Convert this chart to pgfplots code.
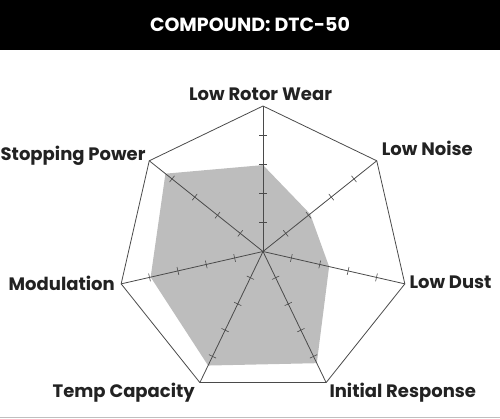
\documentclass[border=0pt]{standalone}
\usepackage{fontspec}
\setmainfont{Poppins}
\usepackage{pgfplots}
\usepackage{pgfplotstable}
\pgfplotsset{compat=1.18}

\definecolor{ink}{HTML}{222222}
\definecolor{web}{HTML}{4A4A4A}
\definecolor{area}{HTML}{BDBDBD}

% angle (deg), score out of 5
\pgfplotstableread{
a v
90 2.97
38.571 2.07
-12.857 2.33
-64.286 4.26
-115.714 4.35
-167.143 3.96
141.429 4.29
90 2.97
}\scores

\pgfplotstableread{
a v
90 5
38.571 5
-12.857 5
-64.286 5
-115.714 5
-167.143 5
141.429 5
90 5
}\rim

\pgfkeys{
  /pgfplots/table/onradar/.style={x expr={263+29.1*\thisrow{v}*cos(\thisrow{a})},
                  y expr={166.5+29.1*\thisrow{v}*sin(\thisrow{a})}},
  /pgfplots/table/onspoke/.style={x expr={263+29.1*\thisrow{v}*cos(#1)},
                  y expr={166.5+29.1*\thisrow{v}*sin(#1)}}
}
\tikzset{
  lbl/.style={font=\fontsize{18}{21}\selectfont\bfseries, text=ink, inner sep=0pt}
}

\begin{document}
\begin{tikzpicture}
\begin{axis}[
  width=500pt, height=418pt, scale only axis,
  xmin=0, xmax=500, ymin=0, ymax=418,
  hide axis, clip=false
]
  % header bar
  \fill[black] (axis cs:0,368) rectangle (axis cs:500,418);
  \node[font=\fontsize{19}{22}\selectfont\bfseries, text=white, inner sep=0pt]
    at (axis cs:250,393) {COMPOUND: DTC-50};
  \draw[black!25, line width=1pt] (axis cs:0,0.5) -- (axis cs:500,0.5);

  % filled score area
  \addplot[fill=area, draw=none] table[onradar] {\scores};

  % outer heptagon
  \addplot[web, line width=0.8pt, no marks] table[onradar] {\rim};

  % spokes with ticks
  \pgfplotsinvokeforeach{90,38.571,-12.857,-64.286,-115.714,-167.143,141.429}{
    \addplot[web, line width=0.8pt, no marks] table[onspoke=#1, row sep=\\] {v\\0\\5\\};
    \addplot[only marks, mark=|, mark size=4, mark options={web, line width=0.6pt, rotate=#1}]
      table[onspoke=#1, row sep=\\] {v\\1\\2\\3\\4\\};
  }

  % category labels
  \node[lbl, anchor=base] at (axis cs:260.5,317.3) {Low Rotor Wear};
  \node[lbl, anchor=base west] at (axis cs:381.7,262) {Low Noise};
  \node[lbl, anchor=base west] at (axis cs:409.3,129.7) {Low Dust};
  \node[lbl, anchor=base west] at (axis cs:329.3,20.7) {Initial Response};
  \node[lbl, anchor=base east] at (axis cs:195,20.7) {Temp Capacity};
  \node[lbl, anchor=base east] at (axis cs:115,128) {Modulation};
  \node[lbl, anchor=base east] at (axis cs:145.7,257.3) {Stopping Power};
\end{axis}
\pgfresetboundingbox
\useasboundingbox (0,0) rectangle (500pt,418pt);
\end{tikzpicture}
\end{document}
